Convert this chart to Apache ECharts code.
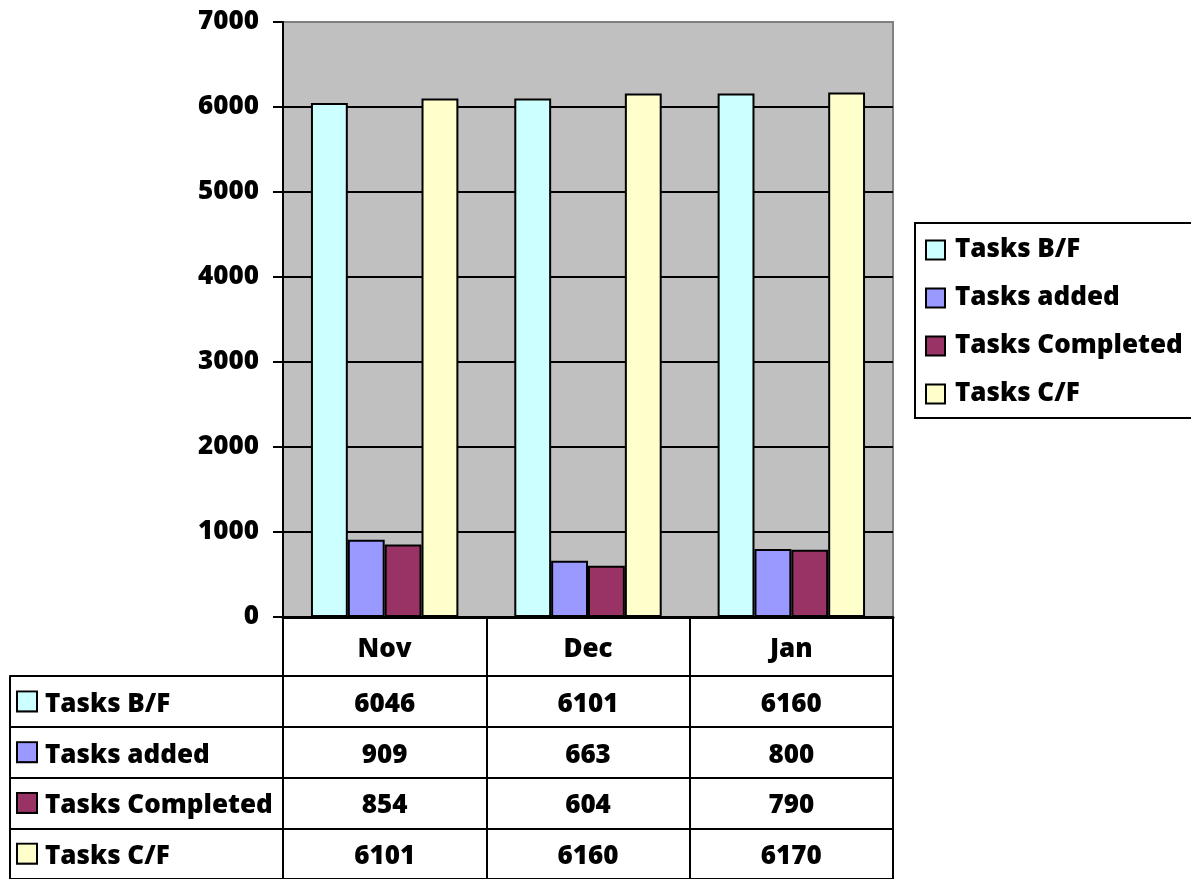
<!DOCTYPE html>
<html>
<head>
<meta charset="utf-8">
<script src="https://cdn.jsdelivr.net/npm/echarts@6/dist/echarts.min.js"></script>
<style>
html,body{margin:0;padding:0;background:#fff;}
#c{width:1191px;height:879px;}
</style>
</head>
<body>
<div id="c"></div>
<script>
const months = ['Nov', 'Dec', 'Jan'];
const seriesNames = ['Tasks B/F', 'Tasks added', 'Tasks Completed', 'Tasks C/F'];
const tasksBF = [6046, 6101, 6160];
const tasksAdded = [909, 663, 800];
const tasksCompleted = [854, 604, 790];
const tasksCF = [6101, 6160, 6170];
const colors = ['#CCFFFF', '#9999FF', '#993366', '#FFFFCC'];
const yTicks = { min: 0, max: 7000, interval: 1000 };

const allValues = [tasksBF, tasksAdded, tasksCompleted, tasksCF];
const FONT = 'Open Sans';
const FS = 26;
const FW = 800;

const chart = echarts.init(document.getElementById('c'), null, { renderer: 'canvas' });

const rich = { t: { fontFamily: FONT, fontWeight: FW, fontSize: FS, color: '#000', padding: [6, 0, 0, 9] } };
colors.forEach((c, i) => {
  rich['k' + i] = { width: 18, height: 18, backgroundColor: c, borderColor: '#000', borderWidth: 2, padding: [0, 0, 0, 0] };
});

const tableData = [];
allValues.forEach((vals, r) => {
  vals.forEach((v, c) => tableData.push([months[c], seriesNames[r], v]));
});

const option = {
  animation: false,
  backgroundColor: '#fff',
  textStyle: { fontFamily: FONT },
  grid: [
    { left: 283, right: 298, top: 22, bottom: 262, show: true, backgroundColor: '#C0C0C0', borderColor: '#808080', borderWidth: 2 },
    { left: 283, right: 298, top: 676, height: 208, show: true, backgroundColor: 'transparent', borderColor: '#000', borderWidth: 2 }
  ],
  legend: {
    data: seriesNames,
    orient: 'vertical',
    left: 915, top: 223,
    width: 275,
    padding: [12, 14, 9, 10],
    backgroundColor: '#fff',
    borderColor: '#000', borderWidth: 2,
    itemWidth: 19, itemHeight: 19,
    itemGap: 18,
    icon: 'rect',
    itemStyle: { borderColor: '#000', borderWidth: 2 },
    textStyle: { fontFamily: FONT, fontWeight: FW, fontSize: FS, color: '#000', lineHeight: 30, padding: [0, 0, 0, 5] }
  },
  xAxis: [
    {
      type: 'category', gridIndex: 0, data: months,
      axisLine: { lineStyle: { color: '#000', width: 3 } },
      axisTick: { show: true, interval: 0, length: 59, lineStyle: { color: '#000', width: 2 } },
      axisLabel: { interval: 0, margin: 20, fontFamily: FONT, fontWeight: FW, fontSize: FS, color: '#000' },
      splitLine: { show: false }
    },
    {
      type: 'category', gridIndex: 1, data: months,
      axisLine: { show: false }, axisTick: { show: false }, axisLabel: { show: false },
      splitLine: { show: true, interval: 0, lineStyle: { color: '#000', width: 2 } }
    }
  ],
  yAxis: [
    {
      type: 'value', gridIndex: 0, min: yTicks.min, max: yTicks.max, interval: yTicks.interval,
      axisLine: { show: true, lineStyle: { color: '#000', width: 2 } },
      axisTick: { show: true, length: 10, lineStyle: { color: '#000', width: 2 } },
      axisLabel: { margin: 24, formatter: (v) => String(v), fontFamily: FONT, fontWeight: FW, fontSize: FS, color: '#000' },
      splitLine: { show: true, showMaxLine: false, lineStyle: { color: '#000', width: 2 } }
    },
    {
      type: 'category', gridIndex: 1, data: seriesNames, inverse: true,
      axisLine: { show: true, lineStyle: { color: '#000', width: 2 } },
      axisTick: { show: true, interval: 0, length: 273, lineStyle: { color: '#000', width: 2 } },
      axisLabel: {
        interval: 0, align: 'left', margin: 265,
        formatter: (v) => '{k' + seriesNames.indexOf(v) + '|}{t|' + v + '}',
        rich: rich
      },
      splitLine: { show: true, interval: 0, lineStyle: { color: '#000', width: 2 } }
    },
    {
      type: 'category', gridIndex: 1, data: seriesNames, inverse: true, offset: 273, position: 'left',
      axisLine: { show: true, lineStyle: { color: '#000', width: 2 } },
      axisTick: { show: false }, axisLabel: { show: false }, splitLine: { show: false }
    }
  ],
  series: allValues.map((vals, i) => ({
    name: seriesNames[i],
    type: 'bar',
    xAxisIndex: 0, yAxisIndex: 0,
    data: vals,
    barGap: '0%',
    barCategoryGap: '27.5%',
    itemStyle: { color: colors[i], borderColor: '#000', borderWidth: 2 }
  })).concat([{
    name: 'table',
    type: 'scatter',
    xAxisIndex: 1, yAxisIndex: 1,
    data: tableData,
    symbol: 'circle', symbolSize: 1,
    itemStyle: { color: '#fff', opacity: 1 },
    label: {
      show: true, position: 'inside', offset: [0, 3],
      formatter: (p) => String(p.value[2]),
      fontFamily: FONT, fontWeight: FW, fontSize: FS, color: '#000',
      textBorderWidth: 0, opacity: 1
    },
    silent: true
  }])
};
chart.setOption(option);
</script>
</body>
</html>
